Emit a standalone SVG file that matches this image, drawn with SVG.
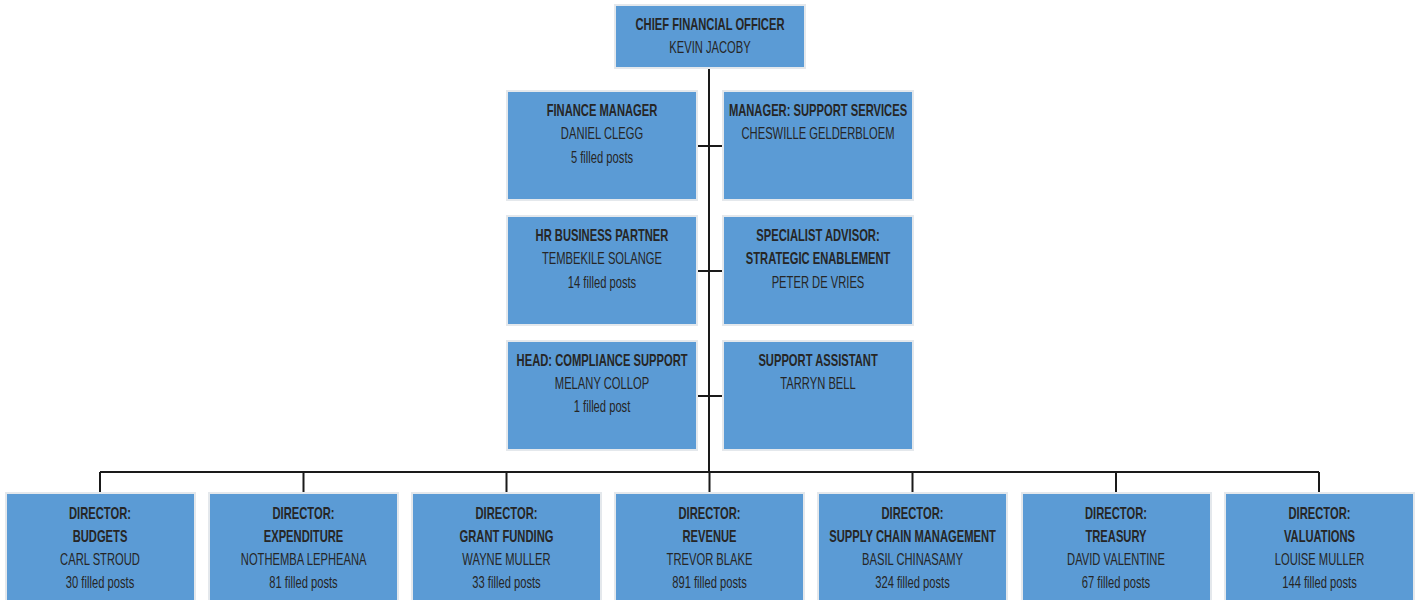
<svg xmlns="http://www.w3.org/2000/svg" width="1419" height="600" viewBox="0 0 1419 600">
<style>
.box{fill:#5B9BD5;stroke:#E4E8EC;stroke-width:2}
text{font-family:"Liberation Sans",Arial,sans-serif;font-size:16px;fill:#262626;text-anchor:middle;transform-box:fill-box;transform-origin:center;transform:scaleX(0.7)}
.b{font-weight:bold}
.c{fill:none;stroke:#1a1a1a;stroke-width:2}
</style>
<rect width="1419" height="600" fill="#fff"/>
<g id="connectors">
<path class="c" d="M709 68V472"/>
<path class="c" d="M697 146H723M697 271H723M697 396H723"/>
<path class="c" d="M100 472H1319M100 472V493M303.5 472V493M506.5 472V493M709.5 472V493M912.5 472V493M1116 472V493M1319 472V493"/>
</g>
<g id="cfo"><rect class="box" x="615" y="5" width="190" height="63"/>
<text class="b" x="710" y="30">CHIEF FINANCIAL OFFICER</text><text x="710" y="53">KEVIN JACOBY</text></g>
<g id="finance-manager"><rect class="box" x="507" y="91" width="190" height="109"/>
<text class="b" x="602" y="116">FINANCE MANAGER</text><text x="602" y="139">DANIEL CLEGG</text><text x="602" y="163">5 filled posts</text></g>
<g id="support-services"><rect class="box" x="723" y="91" width="190" height="109"/>
<text class="b" x="818" y="116">MANAGER: SUPPORT SERVICES</text><text x="818" y="139">CHESWILLE GELDERBLOEM</text></g>
<g id="hr-partner"><rect class="box" x="507" y="216" width="190" height="109"/>
<text class="b" x="602" y="241">HR BUSINESS PARTNER</text><text x="602" y="264">TEMBEKILE SOLANGE</text><text x="602" y="288">14 filled posts</text></g>
<g id="specialist-advisor"><rect class="box" x="723" y="216" width="190" height="109"/>
<text class="b" x="818" y="241">SPECIALIST ADVISOR:</text><text class="b" x="818" y="264">STRATEGIC ENABLEMENT</text><text x="818" y="288">PETER DE VRIES</text></g>
<g id="compliance"><rect class="box" x="507" y="341" width="190" height="109"/>
<text class="b" x="602" y="366">HEAD: COMPLIANCE SUPPORT</text><text x="602" y="389">MELANY COLLOP</text><text x="602" y="412">1 filled post</text></g>
<g id="support-assistant"><rect class="box" x="723" y="341" width="190" height="109"/>
<text class="b" x="818" y="366">SUPPORT ASSISTANT</text><text x="818" y="389">TARRYN BELL</text></g>
<g id="dir-budgets"><rect class="box" x="6" y="493" width="189" height="115"/>
<text class="b" x="100" y="519">DIRECTOR:</text><text class="b" x="100" y="542">BUDGETS</text><text x="100" y="565">CARL STROUD</text><text x="100" y="588">30 filled posts</text></g>
<g id="dir-expenditure"><rect class="box" x="209" y="493" width="189" height="115"/>
<text class="b" x="303.5" y="519">DIRECTOR:</text><text class="b" x="303.5" y="542">EXPENDITURE</text><text x="303.5" y="565">NOTHEMBA LEPHEANA</text><text x="303.5" y="588">81 filled posts</text></g>
<g id="dir-grant"><rect class="box" x="412" y="493" width="189" height="115"/>
<text class="b" x="506.5" y="519">DIRECTOR:</text><text class="b" x="506.5" y="542">GRANT FUNDING</text><text x="506.5" y="565">WAYNE MULLER</text><text x="506.5" y="588">33 filled posts</text></g>
<g id="dir-revenue"><rect class="box" x="615" y="493" width="189" height="115"/>
<text class="b" x="709.5" y="519">DIRECTOR:</text><text class="b" x="709.5" y="542">REVENUE</text><text x="709.5" y="565">TREVOR BLAKE</text><text x="709.5" y="588">891 filled posts</text></g>
<g id="dir-scm"><rect class="box" x="818" y="493" width="189" height="115"/>
<text class="b" x="912.5" y="519">DIRECTOR:</text><text class="b" x="912.5" y="542">SUPPLY CHAIN MANAGEMENT</text><text x="912.5" y="565">BASIL CHINASAMY</text><text x="912.5" y="588">324 filled posts</text></g>
<g id="dir-treasury"><rect class="box" x="1022" y="493" width="189" height="115"/>
<text class="b" x="1116" y="519">DIRECTOR:</text><text class="b" x="1116" y="542">TREASURY</text><text x="1116" y="565">DAVID VALENTINE</text><text x="1116" y="588">67 filled posts</text></g>
<g id="dir-valuations"><rect class="box" x="1225" y="493" width="189" height="115"/>
<text class="b" x="1319.5" y="519">DIRECTOR:</text><text class="b" x="1319.5" y="542">VALUATIONS</text><text x="1319.5" y="565">LOUISE MULLER</text><text x="1319.5" y="588">144 filled posts</text></g>
</svg>
